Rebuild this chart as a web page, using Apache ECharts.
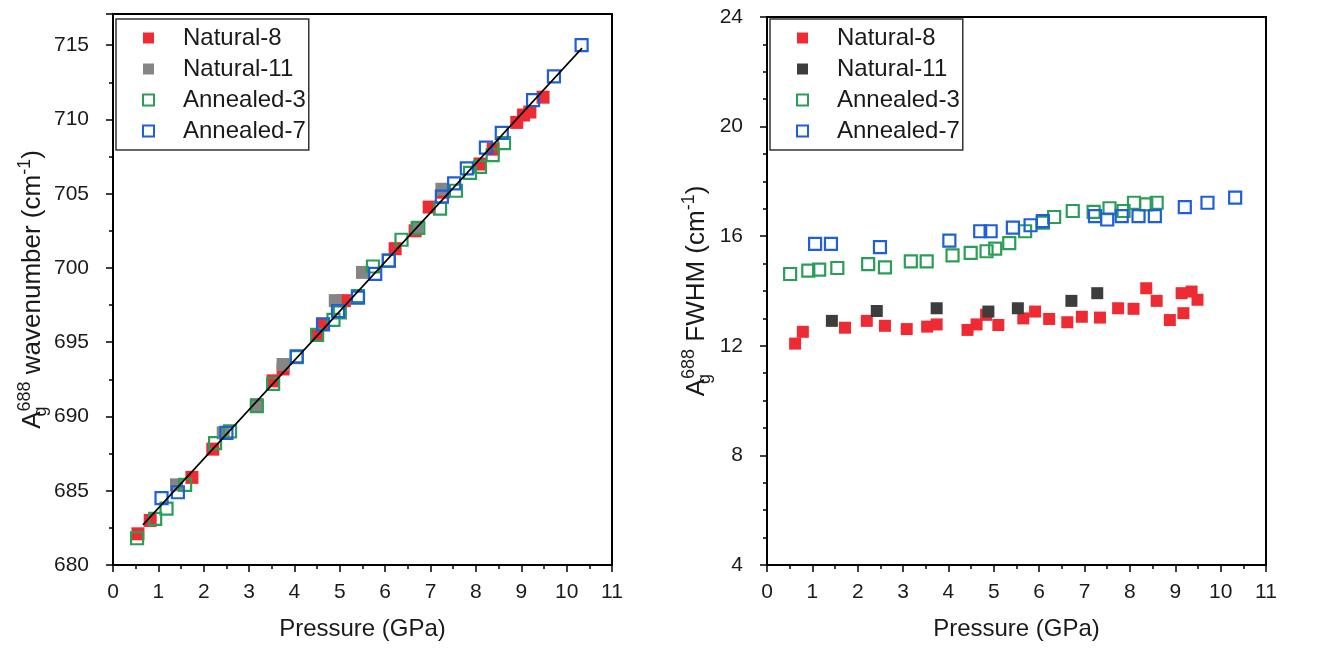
<!DOCTYPE html>
<html>
<head>
<meta charset="utf-8">
<title>Ag688 vs pressure</title>
<script src="https://cdn.jsdelivr.net/npm/echarts@6/dist/echarts.min.js"></script>
<style>
  html, body { margin: 0; padding: 0; background: #fff; }
  #chart { width: 1332px; height: 659px; }
</style>
</head>
<body>
<div id="chart"></div>
<script>
// left panel: [pressure GPa, wavenumber cm-1]
var natural8Wave = [[0.55,682.1],[0.82,683.0],[1.74,685.9],[2.2,687.8],[3.17,690.8],[3.53,692.4],[3.75,693.2],[4.5,695.5],[4.63,696.2],[5.1,697.8],[6.22,701.3],[6.66,702.5],[6.97,704.1],[7.28,705.1],[8.09,707.0],[8.38,708.0],[8.9,709.8],[9.05,710.3],[9.19,710.5],[9.48,711.5]];
var natural11Wave = [[1.4,685.4],[2.43,688.9],[3.17,690.8],[3.75,693.5],[4.9,697.8],[5.5,699.7],[6.7,702.7],[7.25,705.3]];
var annealed3Wave = [[0.53,681.8],[0.93,683.1],[1.18,683.8],[1.59,685.4],[2.25,688.2],[2.58,689.0],[3.17,690.7],[3.53,692.2],[4.05,694.0],[4.5,695.5],[4.86,696.5],[5.0,697.0],[5.4,698.1],[5.73,700.1],[6.08,700.5],[6.36,701.9],[6.73,702.7],[7.21,704.0],[7.56,705.2],[7.87,706.4],[8.09,706.8],[8.37,707.6],[8.62,708.4]];
var annealed7Wave = [[1.07,684.5],[1.43,684.9],[2.5,688.9],[4.05,694.05],[4.63,696.2],[4.96,697.1],[5.4,698.0],[5.78,699.6],[6.08,700.5],[7.25,704.8],[7.52,705.7],[7.8,706.7],[8.22,708.1],[8.57,709.1],[9.26,711.3],[9.72,712.9],[10.33,715.0]];
var fitLine = [[0.66,682.7],[10.34,714.8]];

// right panel: [pressure GPa, FWHM cm-1]
var natural8Fwhm = [[0.62,12.08],[0.79,12.51],[1.72,12.66],[2.2,12.91],[2.6,12.73],[3.08,12.61],[3.53,12.7],[3.74,12.78],[4.42,12.58],[4.62,12.78],[4.83,13.13],[5.1,12.76],[5.65,13.0],[5.91,13.25],[6.22,12.98],[6.62,12.86],[6.94,13.06],[7.34,13.03],[7.74,13.37],[8.08,13.35],[8.36,14.1],[8.59,13.64],[8.88,12.94],[9.14,13.92],[9.18,13.19],[9.36,13.98],[9.49,13.68]];
var natural11Fwhm = [[1.43,12.91],[2.42,13.27],[3.74,13.37],[4.88,13.25],[5.53,13.37],[6.71,13.64],[7.28,13.92]];
var annealed3Fwhm = [[0.51,14.62],[0.91,14.74],[1.15,14.78],[1.55,14.84],[2.23,14.98],[2.6,14.86],[3.17,15.08],[3.52,15.08],[4.09,15.3],[4.49,15.39],[4.84,15.45],[5.03,15.55],[5.34,15.75],[5.69,16.18],[6.08,16.49],[6.33,16.7],[6.74,16.92],[7.2,16.89],[7.55,17.02],[7.86,16.92],[8.09,17.22],[8.36,17.16],[8.59,17.22]];
var annealed7Fwhm = [[1.06,15.72],[1.41,15.72],[2.49,15.6],[4.02,15.84],[4.7,16.18],[4.93,16.18],[5.42,16.31],[5.81,16.4],[6.08,16.55],[7.23,16.73],[7.5,16.61],[7.82,16.73],[8.19,16.73],[8.55,16.73],[9.21,17.06],[9.71,17.22],[10.32,17.41]];

var legendNames = ['Natural-8', 'Natural-11', 'Annealed-3', 'Annealed-7'];

var font = 'Arial, "Liberation Sans", sans-serif';
var ink = '#1a1a1a';
var red = '#ee2a32', grayL = '#858585', grayR = '#3d3d3d', green = '#2a9e57', blue = '#1f5fd8';

var myChart = echarts.init(document.getElementById('chart'));

var richTitle = {
  b: { fontSize: 26, lineHeight: 34, fontFamily: font, color: ink },
  sub: { fontSize: 18, lineHeight: 18, fontFamily: font, color: ink, verticalAlign: 'bottom', width: 0 },
  sup: { fontSize: 18, lineHeight: 18, fontFamily: font, color: ink, verticalAlign: 'top' }
};

function makeX(idx) {
  return {
    gridIndex: idx, type: 'value', min: 0, max: 11, interval: 1,
    name: 'Pressure (GPa)', nameLocation: 'middle', nameGap: 52,
    nameTextStyle: { fontSize: 24, color: ink, fontFamily: font },
    axisLine: { show: true, onZero: false, lineStyle: { color: '#000', width: 2 } },
    axisTick: { show: true, length: 7, lineStyle: { color: '#000', width: 1.5 } },
    minorTick: { show: true, splitNumber: 2, length: 4, lineStyle: { color: '#000', width: 1.5 } },
    axisLabel: { fontSize: 21, color: ink, fontFamily: font, margin: 17 },
    splitLine: { show: false }
  };
}

function makeY(idx, min, max, step, minorSplit, title, gap, showTop) {
  return {
    gridIndex: idx, type: 'value', min: min, max: max, interval: step,
    name: title, nameLocation: 'middle', nameGap: gap,
    nameTextStyle: { rich: richTitle },
    axisLine: { show: true, onZero: false, lineStyle: { color: '#000', width: 2 } },
    axisTick: { show: true, length: 7, lineStyle: { color: '#000', width: 1.5 } },
    minorTick: { show: true, splitNumber: minorSplit, length: 4, lineStyle: { color: '#000', width: 1.5 } },
    axisLabel: { fontSize: 21, color: ink, fontFamily: font, margin: 24, showMaxLabel: showTop },
    splitLine: { show: false }
  };
}

function filled(name, idx, data, color, size) {
  return {
    name: name, type: 'scatter', xAxisIndex: idx, yAxisIndex: idx, data: data,
    symbol: 'rect', symbolSize: size,
    itemStyle: { color: color, opacity: 1 }
  };
}

function hollow(name, idx, data, color, size) {
  return {
    name: name, type: 'scatter', xAxisIndex: idx, yAxisIndex: idx, data: data,
    symbol: 'rect', symbolSize: size,
    itemStyle: { color: 'rgba(255,255,255,0)', borderColor: color, borderWidth: 2.2, opacity: 1 }
  };
}

function makeLegend(left, items) {
  return {
    left: left, top: 19, orient: 'vertical', data: items,
    itemWidth: 11, itemHeight: 11, itemGap: 7,
    padding: [7, 3, 7, 26], borderColor: '#333', borderWidth: 1.5,
    textStyle: { fontSize: 24, color: ink, fontFamily: font, padding: [0, 0, 0, 24] },
    selectedMode: false
  };
}

var option = {
  backgroundColor: '#fff',
  animation: false,
  grid: [
    { left: 113, top: 14, width: 499, height: 551, show: true, borderColor: '#000', borderWidth: 2 },
    { left: 767, top: 17, width: 499, height: 548, show: true, borderColor: '#000', borderWidth: 2 }
  ],
  xAxis: [makeX(0), makeX(1)],
  yAxis: [
    makeY(0, 680, 717.1, 5, 2, '{b|A}{sub|g}{sup|688}{b| wavenumber (cm}{sup|-1}{b|)}', 62, false),
    makeY(1, 4, 24, 4, 4, '{b|A}{sub|g}{sup|688}{b| FWHM (cm}{sup|-1}{b|)}', 53, true)
  ],
  legend: [
    makeLegend(116, legendNames),
    makeLegend(770, ['Natural-8', { name: 'Natural-11', itemStyle: { color: grayR } }, 'Annealed-3', 'Annealed-7'])
  ],
  series: [
    filled('Natural-8', 0, natural8Wave, red, 13),
    filled('Natural-11', 0, natural11Wave, grayL, 13),
    hollow('Annealed-3', 0, annealed3Wave, green, 12),
    hollow('Annealed-7', 0, annealed7Wave, blue, 12),
    {
      type: 'line', xAxisIndex: 0, yAxisIndex: 0, data: fitLine, symbol: 'none',
      lineStyle: { color: '#000', width: 1.6 }, z: 5, silent: true
    },
    filled('Natural-8', 1, natural8Fwhm, red, 12),
    filled('Natural-11', 1, natural11Fwhm, grayR, 12),
    hollow('Annealed-3', 1, annealed3Fwhm, green, 12),
    hollow('Annealed-7', 1, annealed7Fwhm, blue, 12)
  ]
};

myChart.setOption(option);
</script>
</body>
</html>
